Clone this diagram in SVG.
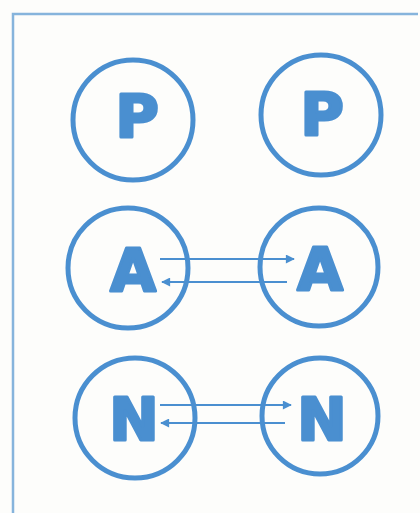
<svg xmlns="http://www.w3.org/2000/svg" width="420" height="513" viewBox="0 0 420 513">
<style>
.ring{fill:none;stroke:#4a8fd0;stroke-width:5}
.lbl{font-family:"DejaVu Sans","Liberation Sans",sans-serif;font-weight:bold;font-size:59px;fill:#4a8fd0;stroke:#4a8fd0;stroke-width:3;stroke-linejoin:round;text-anchor:middle}
.conn{stroke:#4a8fd0;stroke-width:2;fill:none}
</style>
<defs>
<marker id="ah" viewBox="0 0 10 10" refX="9" refY="5" markerWidth="10" markerHeight="9" markerUnits="userSpaceOnUse" orient="auto">
<path d="M0,0 L10,5 L0,10 z" fill="#4a8fd0"/>
</marker>
</defs>
<rect x="0" y="0" width="420" height="513" fill="#fdfdfb"/>
<path d="M13,513 V14 H418" fill="none" stroke="#86b4dc" stroke-width="2.5"/>
<g id="p-left"><circle class="ring" cx="133" cy="120" r="60"/><text class="lbl" x="137" y="137">P</text></g>
<g id="p-right"><circle class="ring" cx="321" cy="115" r="60"/><text class="lbl" x="322" y="135">P</text></g>
<g id="a-left"><circle class="ring" cx="128" cy="268" r="60"/><text class="lbl" x="133" y="291">A</text></g>
<g id="a-right"><circle class="ring" cx="319" cy="267" r="59"/><text class="lbl" x="320" y="290">A</text></g>
<g id="n-left"><circle class="ring" cx="135" cy="418" r="60"/><text class="lbl" x="134" y="440">N</text></g>
<g id="n-right"><circle class="ring" cx="320" cy="416" r="58"/><text class="lbl" x="322" y="440">N</text></g>
<g id="connectors">
<line class="conn" x1="160" y1="259" x2="294" y2="259" marker-end="url(#ah)"/>
<line class="conn" x1="287" y1="282" x2="162" y2="282" marker-end="url(#ah)"/>
<line class="conn" x1="160" y1="405" x2="291" y2="405" marker-end="url(#ah)"/>
<line class="conn" x1="285" y1="423" x2="161" y2="423" marker-end="url(#ah)"/>
</g>
</svg>
